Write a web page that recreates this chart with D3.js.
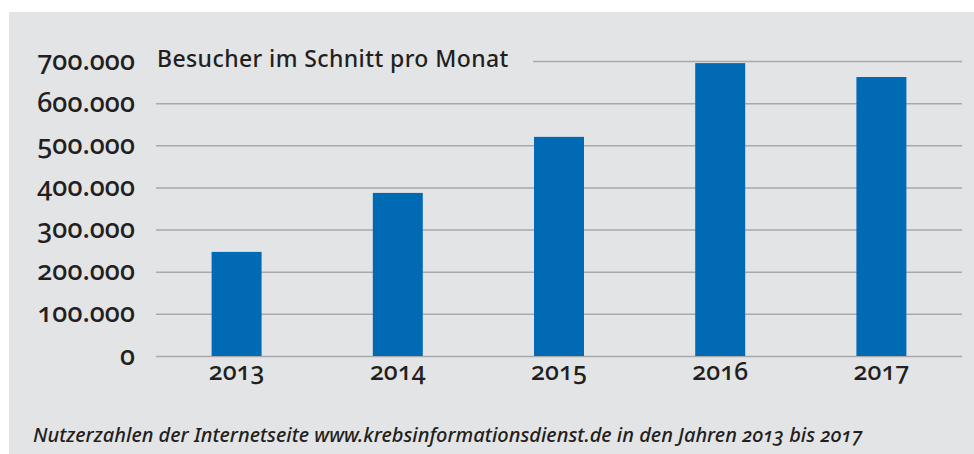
<!doctype html>
<html>
<head>
<meta charset="utf-8">
<script src="https://d3js.org/d3.v7.min.js"></script>
<style>
  body { margin: 0; background: #fff; }
  text { font-family: "Noto Sans", "Open Sans", sans-serif; fill: #231f20; font-variant-numeric: oldstyle-nums; }
</style>
</head>
<body>
<script>
// data
var years = ["2013", "2014", "2015", "2016", "2017"];
var visitors = [247000, 387000, 520000, 695000, 662000];
var yTicks = [0, 100000, 200000, 300000, 400000, 500000, 600000, 700000];
var title = "Besucher im Schnitt pro Monat";
var caption = "Nutzerzahlen der Internetseite www.krebsinformationsdienst.de in den Jahren 2013 bis 2017";

var W = 974, H = 454;
var plotLeft = 156, plotRight = 962, plotTop = 61, plotBottom = 356;

var svg = d3.select("body").append("svg").attr("width", W).attr("height", H);

svg.append("rect").attr("x", 9).attr("y", 12).attr("width", W - 9).attr("height", H - 12)
    .attr("fill", "#e3e4e6");

var de = d3.formatLocale({ decimal: ",", thousands: ".", grouping: [3], currency: ["", " €"] });

var x = d3.scaleBand().domain(years).range([plotLeft, plotRight]).paddingInner(0.69).paddingOuter(0.345);
var y = d3.scaleLinear().domain([0, 700000]).range([plotBottom, plotTop]);

var yAxis = svg.append("g").attr("transform", "translate(" + plotLeft + ",0)")
    .call(d3.axisLeft(y).tickValues(yTicks).tickFormat(de.format(",")).tickSize(-(plotRight - plotLeft)).tickPadding(21));
yAxis.select(".domain").remove();
yAxis.selectAll(".tick line").attr("stroke", "#a9a9ab").attr("stroke-width", 1.5);
yAxis.selectAll(".tick text").attr("font-size", 27).attr("font-weight", 500).attr("dy", "0.3em");

// title sits on a patch of background that hides the top grid line
var t = svg.append("text").attr("x", plotLeft + 1).attr("y", 67)
    .attr("font-size", 23).attr("font-weight", 500).attr("letter-spacing", 0.4).text(title);
var tb = t.node().getBBox();
svg.insert("rect", function () { return t.node(); })
    .attr("x", plotLeft - 1).attr("y", tb.y).attr("width", 534 - plotLeft)
    .attr("height", tb.height).attr("fill", "#e3e4e6");

svg.selectAll(".bar").data(visitors).join("rect").attr("class", "bar")
    .attr("x", function (d, i) { return x(years[i]); })
    .attr("width", x.bandwidth())
    .attr("y", function (d) { return y(d); })
    .attr("height", function (d) { return y(0) - y(d); })
    .attr("fill", "#006ab4");

var xAxis = svg.append("g").attr("transform", "translate(0," + plotBottom + ")")
    .call(d3.axisBottom(x).tickSize(0).tickPadding(0));
xAxis.select(".domain").remove();
xAxis.selectAll(".tick text").attr("font-size", 25).attr("font-weight", 500).attr("dy", 0).attr("y", 24);

svg.append("text").attr("x", 33).attr("y", 442)
    .attr("font-size", 20).attr("font-weight", 500).attr("font-style", "italic").text(caption);
</script>
</body>
</html>
